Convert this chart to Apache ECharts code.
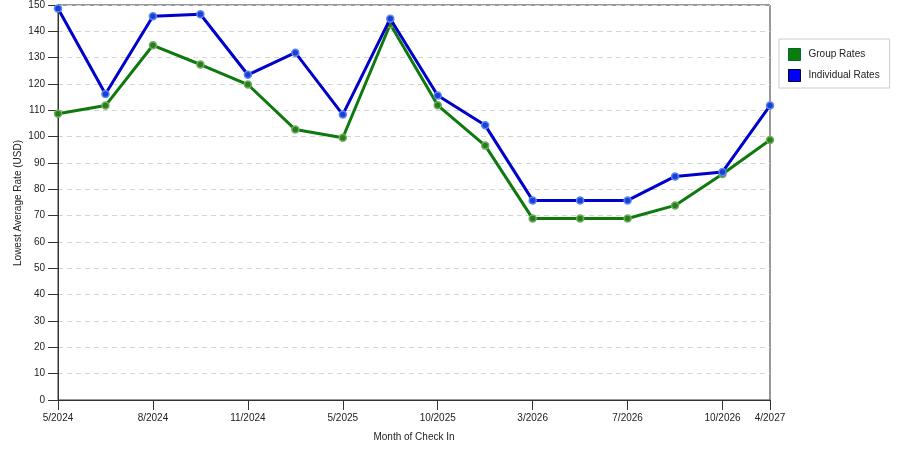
<!DOCTYPE html>
<html>
<head>
<meta charset="utf-8">
<script src="https://cdn.jsdelivr.net/npm/echarts@6/dist/echarts.min.js"></script>
<style>html,body{margin:0;padding:0;background:#fff}#c{width:900px;height:450px}</style>
</head>
<body>
<div id="c"></div>
<script>
const months = ["5/2024","6/2024","8/2024","10/2024","11/2024","3/2025","5/2025","7/2025","10/2025","12/2025","3/2026","5/2026","7/2026","9/2026","10/2026","4/2027"];
const groupRates = [108.7,111.8,134.7,127.4,119.8,102.7,99.6,142.7,111.9,96.6,68.9,68.9,68.9,73.9,85.8,98.7];
const individualRates = [148.7,116.2,145.7,146.5,123.5,131.9,108.4,144.8,115.6,104.3,75.8,75.8,75.8,84.9,86.6,111.8];
const yTicks = {min:0, max:150, interval:10};
const yTitle = 'Lowest Average Rate (USD)';

const FONT = "Liberation Sans";
const lastIdx = months.length - 1;
const showIdx = (i) => i % 2 === 0 || i === lastIdx;

const chart = echarts.init(document.getElementById('c'), null, {renderer:'canvas'});
chart.setOption({
  animation:false,
  backgroundColor:'#fff',
  textStyle:{fontFamily:FONT},
  grid:{left:58, right:130, top:5, bottom:50, show:true, borderColor:'#333', borderWidth:1, containLabel:false},
  graphic:[{
    type:'text', x:18, y:203, rotation:Math.PI/2,
    style:{text:yTitle, fontFamily:FONT, fontSize:10, fill:'#222', align:'center', verticalAlign:'middle'}
  }],
  legend:{
    orient:'vertical', left:779, top:39,
    padding:[9,10,6,9], itemGap:8, itemWidth:12, itemHeight:12,
    borderColor:'#ccc', borderWidth:1, backgroundColor:'#fff',
    icon:'rect',
    textStyle:{fontFamily:FONT, fontSize:10, color:'#222', padding:[0,0,0,3]},
    data:[
      {name:'Group Rates', itemStyle:{color:'#0b7d0b', borderColor:'#063', borderWidth:1}},
      {name:'Individual Rates', itemStyle:{color:'#0000ff', borderColor:'#003', borderWidth:1}}
    ]
  },
  xAxis:{
    type:'category', data:months, boundaryGap:false,
    name:'Month of Check In', nameLocation:'middle', nameGap:32,
    nameTextStyle:{fontFamily:FONT, fontSize:10, color:'#222'},
    axisLine:{lineStyle:{color:'#333', width:1}},
    axisTick:{show:true, length:10, interval:(i)=>showIdx(i), lineStyle:{color:'#333'}},
    axisLabel:{interval:(i)=>showIdx(i), fontFamily:FONT, fontSize:10, color:'#222', margin:13},
    splitLine:{show:false}
  },
  yAxis:{
    type:'value', min:yTicks.min, max:yTicks.max, interval:yTicks.interval,
    axisLine:{show:true, lineStyle:{color:'#333', width:1}},
    axisTick:{show:true, length:10, lineStyle:{color:'#333'}},
    axisLabel:{fontFamily:FONT, fontSize:10, color:'#222', margin:13},
    splitLine:{show:true, lineStyle:{color:'#d4d4d4', type:[5,4], width:1}}
  },
  series:[
    {
      name:'Group Rates', type:'line', data:groupRates,
      symbol:'circle', symbolSize:7, showSymbol:true,
      lineStyle:{color:'#0e7a0e', width:3},
      itemStyle:{color:'#2a7d1c', borderColor:'#6fae5f', borderWidth:1.5},
      z:2
    },
    {
      name:'Individual Rates', type:'line', data:individualRates,
      symbol:'circle', symbolSize:7, showSymbol:true,
      lineStyle:{color:'#0000cc', width:3},
      itemStyle:{color:'#1a3fd6', borderColor:'#5c86f0', borderWidth:1.5},
      z:3
    }
  ]
});
</script>
</body>
</html>
